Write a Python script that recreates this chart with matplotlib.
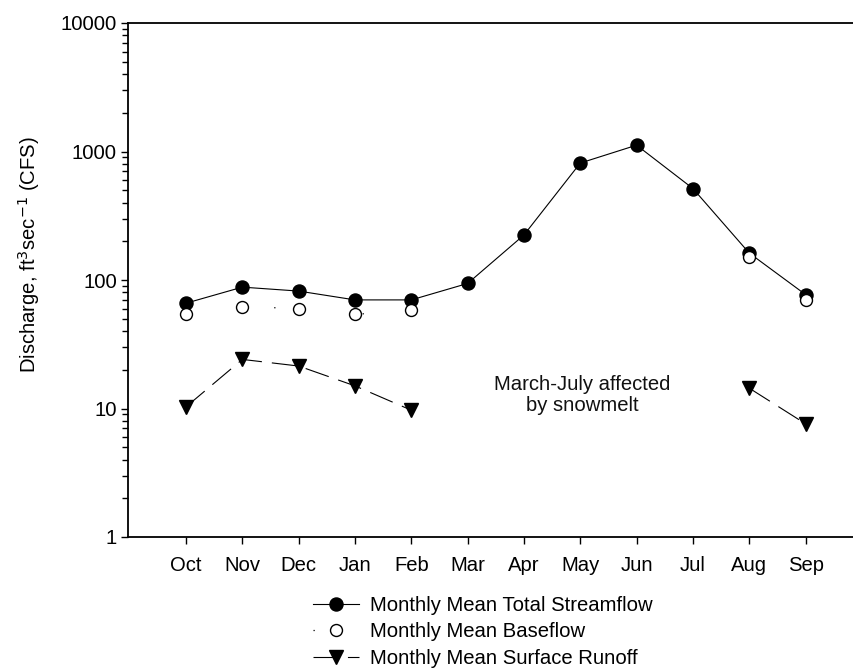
import numpy as np
import matplotlib.pyplot as plt
from matplotlib.ticker import LogLocator, NullFormatter, FixedFormatter, FixedLocator

plt.rcParams['font.family'] = ['Liberation Sans', 'DejaVu Sans']

months = ["Oct", "Nov", "Dec", "Jan", "Feb", "Mar", "Apr", "May", "Jun", "Jul", "Aug", "Sep"]

# monthly means, cfs
total_flow = [66, 88, 82, 70, 70, 94, 224, 813, 1120, 515, 162, 77]
baseflow = [54, 62, 60, 54, 58, np.nan, np.nan, np.nan, np.nan, np.nan, 150, 70]
runoff = [10.3, 24.1, 21.4, 15.0, 9.7, np.nan, np.nan, np.nan, np.nan, np.nan, 14.4, 7.6]

ytick_vals = [1, 10, 100, 1000, 10000]
ytick_labels = ["1", "10", "100", "1000", "10000"]

x = np.arange(len(months))
fs = 14.6

fig = plt.figure(figsize=(8.54, 6.70), dpi=100)
ax = fig.add_axes([128 / 854, 133 / 670, 726 / 854, 514 / 670])

ax.plot(x, total_flow, color="black", lw=0.8, marker="o", ms=9.4,
        mfc="black", mec="black", label="Monthly Mean Total Streamflow", zorder=3)
ax.plot(x, baseflow, color="black", lw=0.9, linestyle=(0, (1, 70)), marker="o", ms=8.6,
        mfc="white", mec="black", mew=1.0, label="Monthly Mean Baseflow", zorder=4)
ax.plot(x, runoff, color="black", lw=0.8, linestyle=(0, (22, 9)), marker="v", ms=9.5,
        mfc="black", mec="black", label="Monthly Mean Surface Runoff", zorder=3)

ax.text(7.03, 12.7, "March-July affected\nby snowmelt", ha="center", va="center",
        fontsize=fs, linespacing=1.1, color="#111111")

ax.set_yscale("log")
ax.set_ylim(1, 10000)
ax.set_xlim(-1.03, 11.86)

ax.yaxis.set_major_locator(FixedLocator(ytick_vals))
ax.yaxis.set_major_formatter(FixedFormatter(ytick_labels))
ax.yaxis.set_minor_locator(LogLocator(base=10, subs=np.arange(2, 10)))
ax.yaxis.set_minor_formatter(NullFormatter())

ax.set_xticks(x)
ax.set_xticklabels(months)

ax.tick_params(axis="y", which="major", direction="out", length=5, width=1, labelsize=fs, pad=3)
ax.tick_params(axis="y", which="minor", direction="out", length=4, width=1)
ax.tick_params(axis="x", direction="out", length=5, width=1, labelsize=fs, pad=9)

ax.spines["right"].set_visible(False)
for s in ["left", "bottom", "top"]:
    ax.spines[s].set_linewidth(1.3)

ax.set_ylabel("Discharge, ft$^3$sec$^{-1}$ (CFS)", fontsize=fs)
ax.yaxis.set_label_coords(-0.118, 0.55)

fig.legend(loc="upper left", bbox_to_anchor=(313 / 854, 1 - 596 / 670), frameon=False,
           fontsize=fs, numpoints=1, handlelength=2.25, handletextpad=0.55,
           labelspacing=0.36, borderpad=0, borderaxespad=0)

fig.savefig("out.png", dpi=100)
